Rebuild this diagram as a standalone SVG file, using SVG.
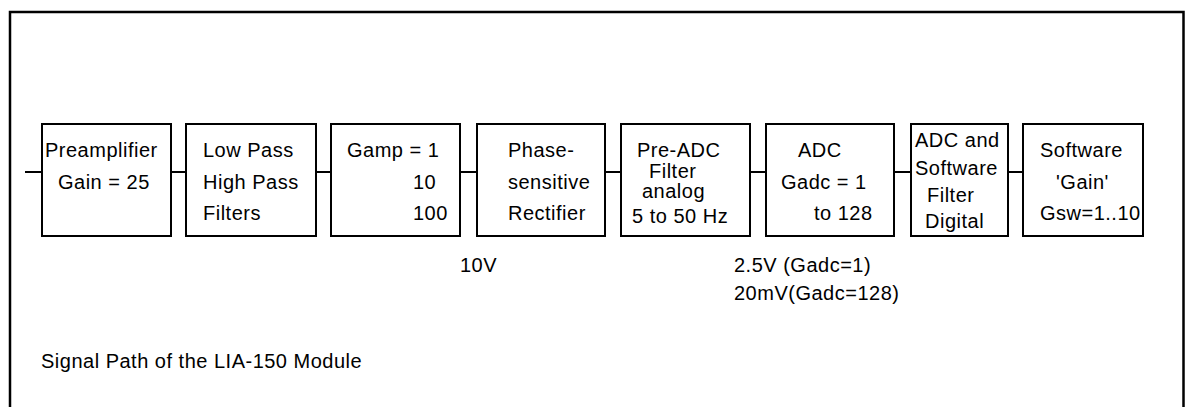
<svg xmlns="http://www.w3.org/2000/svg" width="1185" height="407" viewBox="0 0 1185 407">
<style>
  .box { fill: #ffffff; stroke: #000000; stroke-width: 2; }
  .wire { fill: none; stroke: #000000; stroke-width: 2; }
  text { font-family: "Liberation Sans", Arial, sans-serif; font-size: 20px; letter-spacing: 0.5px; fill: #000000; }
</style>
<rect x="0" y="0" width="1185" height="407" fill="#ffffff"/>
<path d="M10,410 V12 H1183.5 V410" fill="none" stroke="#000000" stroke-width="2.5"/>
<g id="connectors">
  <line class="wire" x1="25" y1="172" x2="42" y2="172"/>
  <line class="wire" x1="171" y1="172" x2="186" y2="172"/>
  <line class="wire" x1="316" y1="172" x2="331" y2="172"/>
  <line class="wire" x1="460" y1="172" x2="477" y2="172"/>
  <line class="wire" x1="605" y1="172" x2="621" y2="172"/>
  <line class="wire" x1="750" y1="172" x2="766" y2="172"/>
  <line class="wire" x1="894" y1="172" x2="911" y2="172"/>
  <line class="wire" x1="1008" y1="172" x2="1023" y2="172"/>
</g>
<g id="preamplifier">
  <rect class="box" x="42" y="124" width="129" height="112"/>
  <text x="45" y="157">Preamplifier</text>
  <text x="58" y="189">Gain = 25</text>
</g>
<g id="filters">
  <rect class="box" x="186" y="124" width="130" height="112"/>
  <text x="203" y="157">Low Pass</text>
  <text x="203" y="189">High Pass</text>
  <text x="203" y="220">Filters</text>
</g>
<g id="gamp">
  <rect class="box" x="331" y="124" width="129" height="112"/>
  <text x="347" y="157">Gamp = 1</text>
  <text x="413" y="189">10</text>
  <text x="413" y="220">100</text>
</g>
<g id="rectifier">
  <rect class="box" x="477" y="124" width="128" height="112"/>
  <text x="508" y="157">Phase-</text>
  <text x="508" y="189">sensitive</text>
  <text x="508" y="220">Rectifier</text>
</g>
<g id="preadc">
  <rect class="box" x="621" y="124" width="129" height="112"/>
  <text x="637" y="157">Pre-ADC</text>
  <text x="649" y="178">Filter</text>
  <text x="642" y="198">analog</text>
  <text x="632" y="223">5 to 50 Hz</text>
</g>
<g id="adc">
  <rect class="box" x="766" y="124" width="128" height="112"/>
  <text x="798" y="157">ADC</text>
  <text x="781" y="189">Gadc = 1</text>
  <text x="814" y="220">to 128</text>
</g>
<g id="digital-filter">
  <rect class="box" x="911" y="124" width="97" height="112"/>
  <text x="915" y="147">ADC and</text>
  <text x="915" y="175">Software</text>
  <text x="927" y="202">Filter</text>
  <text x="925" y="228">Digital</text>
</g>
<g id="software-gain">
  <rect class="box" x="1023" y="124" width="120" height="112"/>
  <text x="1040" y="157">Software</text>
  <text x="1056" y="189">'Gain'</text>
  <text x="1040" y="220">Gsw=1..10</text>
</g>
<g id="labels">
  <text x="460" y="272">10V</text>
  <text x="734" y="272">2.5V (Gadc=1)</text>
  <text x="734" y="300">20mV(Gadc=128)</text>
  <text x="41" y="368">Signal Path of the LIA-150 Module</text>
</g>
</svg>
